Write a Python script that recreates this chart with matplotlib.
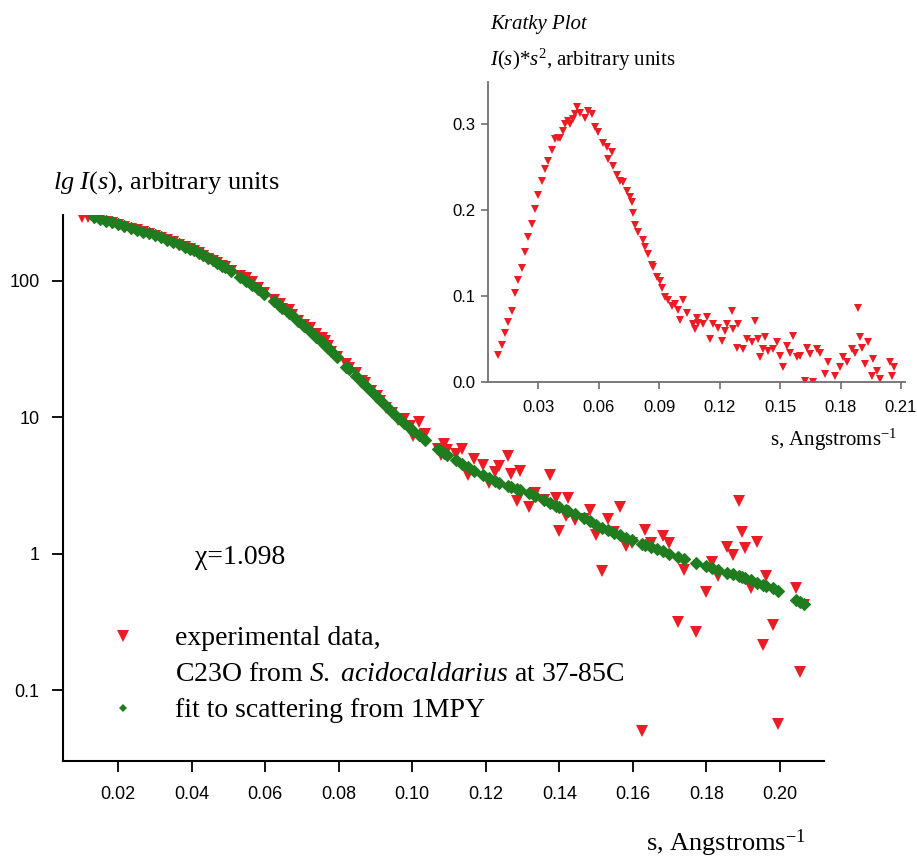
import matplotlib
matplotlib.use("Agg")
import matplotlib.pyplot as plt
from matplotlib.lines import Line2D
from matplotlib.ticker import FormatStrFormatter, NullLocator

plt.rcParams['font.family'] = 'Liberation Sans'
plt.rcParams['mathtext.fontset'] = 'custom'
plt.rcParams['mathtext.rm'] = 'Liberation Serif'
plt.rcParams['mathtext.it'] = 'Liberation Serif:italic'

# scattering vector, Angstroms^-1
s_exp = [0.0101, 0.0118, 0.0134, 0.0151, 0.0168, 0.0184, 0.0200, 0.0217, 0.0234, 0.0250,
         0.0267, 0.0283, 0.0300, 0.0317, 0.0333, 0.0349, 0.0366, 0.0383, 0.0395, 0.0407,
         0.0420, 0.0432, 0.0445, 0.0457, 0.0470, 0.0482, 0.0490, 0.0507, 0.0531, 0.0548,
         0.0565, 0.0581, 0.0598, 0.0623, 0.0639, 0.0647, 0.0664, 0.0672, 0.0689, 0.0705,
         0.0722, 0.0739, 0.0755, 0.0763, 0.0771, 0.0780, 0.0796, 0.0821, 0.0829, 0.0846,
         0.0862, 0.0871, 0.0887, 0.0904, 0.0912, 0.0929, 0.0945, 0.0962, 0.0978, 0.0995,
         0.1003, 0.1019, 0.1036, 0.1069, 0.1078, 0.1086, 0.1094, 0.1119, 0.1136, 0.1152,
         0.1169, 0.1193, 0.1210, 0.1226, 0.1235, 0.1260, 0.1268, 0.1284, 0.1292, 0.1317,
         0.1334, 0.1359, 0.1375, 0.1392, 0.1400, 0.1417, 0.1425, 0.1442, 0.1466, 0.1483,
         0.1500, 0.1516, 0.1533, 0.1549, 0.1566, 0.1582, 0.1599, 0.1624, 0.1632, 0.1649,
         0.1665, 0.1682, 0.1698, 0.1723, 0.1740, 0.1773, 0.1798, 0.1814, 0.1831, 0.1855,
         0.1872, 0.1888, 0.1896, 0.1905, 0.1921, 0.1938, 0.1955, 0.1963, 0.1980, 0.1996,
         0.2045, 0.2054, 0.2065]

# experimental I(s), main log plot
intensity_exp = [293, 291, 289, 281, 271, 264, 256, 249, 241, 235,
                 226, 220, 213, 206, 199, 191, 184, 176, 171, 165,
                 159, 152, 145, 140, 134, 128, 126, 118, 108, 105.2,
                 97.9, 88.0, 81.4, 72.1, 67.1, 62.2, 60.8, 55.9, 50.8, 47.3,
                 44.7, 40.9, 37.9, 36.1, 33.1, 30.1, 27.6, 24.6, 23.0, 20.96,
                 18.44, 17.80, 15.63, 14.37, 13.19, 11.59, 10.75, 9.55, 9.62, 8.55,
                 7.26, 9.24, 7.53, 5.88, 5.28, 6.36, 5.77, 5.37, 5.81, 3.75,
                 4.92, 4.45, 3.27, 3.96, 4.41, 5.20, 3.82, 2.43, 4.03, 2.20,
                 2.80, 2.49, 3.76, 2.57, 1.46, 1.90, 2.55, 1.75, 1.78, 2.09,
                 1.36, 0.740, 1.79, 1.43, 2.19, 1.14, 1.19, 0.050, 1.50, 1.19,
                 0.012, 1.35, 1.19, 0.313, 0.753, 0.268, 0.526, 0.869, 0.680, 1.11,
                 0.982, 2.43, 1.44, 1.10, 0.564, 1.22, 0.214, 0.690, 0.300, 0.056,
                 0.564, 0.135, 0.422]

# Kratky plot values I(s)*s^2 (inset)
kratky_exp = [0.031, 0.0427, 0.057, 0.070, 0.083, 0.103, 0.118, 0.132, 0.151, 0.168,
              0.184, 0.201, 0.217, 0.234, 0.248, 0.257, 0.269, 0.282, 0.283, 0.284,
              0.292, 0.300, 0.303, 0.300, 0.306, 0.311, 0.319, 0.313, 0.307, 0.315,
              0.311, 0.296, 0.290, 0.278, 0.273, 0.259, 0.267, 0.251, 0.240, 0.234,
              0.232, 0.222, 0.215, 0.209, 0.196, 0.182, 0.174, 0.165, 0.157, 0.149,
              0.136, 0.134, 0.122, 0.117, 0.109, 0.099, 0.095, 0.088, 0.091, 0.084,
              0.072, 0.095, 0.080, 0.067, 0.061, 0.074, 0.069, 0.067, 0.075, 0.050,
              0.067, 0.063, 0.048, 0.059, 0.067, 0.082, 0.061, 0.040, 0.067, 0.038,
              0.050, 0.046, 0.071, 0.050, 0.029, 0.038, 0.052, 0.036, 0.038, 0.046,
              0.030, 0.017, 0.042, 0.034, 0.054, 0.029, 0.030, 0.0015, 0.040, 0.032,
              0.0005, 0.038, 0.034, 0.009, 0.023, 0.007, 0.017, 0.029, 0.023, 0.038,
              0.034, 0.086, 0.052, 0.040, 0.021, 0.046, 0.007, 0.027, 0.013, 0.0035,
              0.0236, 0.0066, 0.018]

# fit to scattering from 1MPY (starts at the third s point)
s_fit = s_exp[2:]
intensity_fit = [294, 285, 276, 268, 260, 252, 244, 237,
                 229, 222, 216, 208, 200, 193, 185, 177, 172, 167,
                 160, 153, 146, 141, 134, 129, 125, 118, 107, 99.6,
                 93.0, 87.2, 80.5, 71.0, 65.6, 63.0, 57.8, 55.6, 50.8, 46.6,
                 42.6, 38.8, 35.5, 33.7, 32.1, 30.3, 27.4, 23.5, 22.4, 20.1,
                 18.2, 17.3, 15.6, 14.1, 13.4, 12.1, 10.9, 9.84, 9.04, 8.30,
                 7.97, 7.36, 6.76, 5.82, 5.62, 5.46, 5.30, 4.83, 4.53, 4.28,
                 4.06, 3.77, 3.58, 3.41, 3.31, 3.13, 3.07, 2.97, 2.92, 2.76,
                 2.65, 2.47, 2.36, 2.25, 2.20, 2.10, 2.05, 1.95, 1.81, 1.72,
                 1.63, 1.55, 1.48, 1.42, 1.36, 1.31, 1.25, 1.18, 1.16, 1.12,
                 1.08, 1.04, 1.00, 0.951, 0.916, 0.853, 0.808, 0.783, 0.759, 0.726,
                 0.703, 0.683, 0.672, 0.659, 0.636, 0.613, 0.590, 0.580, 0.559, 0.533,
                 0.457, 0.445, 0.430]

main_xticks = [0.02, 0.04, 0.06, 0.08, 0.10, 0.12, 0.14, 0.16, 0.18, 0.20]
main_yticks = [0.1, 1, 10, 100]
main_ylabels = ['0.1', '1', '10', '100']
inset_xticks = [0.03, 0.06, 0.09, 0.12, 0.15, 0.18, 0.21]
inset_yticks = [0.0, 0.1, 0.2, 0.3]

red = '#ec1c24'
green = '#1f7d1f'
serif = 'Liberation Serif'

W, H = 917, 858
fig = plt.figure(figsize=(W / 100, H / 100), dpi=100)

# main log plot
ax = fig.add_axes([63 / W, 1 - 761 / H, (824 - 63) / W, (761 - 215) / H])
ax.plot(s_exp, intensity_exp, linestyle='none', marker='v', ms=8, color=red, mew=0)
ax.plot(s_fit, intensity_fit, linestyle='none', marker='D', ms=6.3, color=green,
        mec=green, mew=0.8)
ax.set_yscale('log')
ax.set_xlim(0.005, 0.212)
ax.set_ylim(0.0302, 303)
ax.set_xticks(main_xticks)
ax.xaxis.set_major_formatter(FormatStrFormatter('%.2f'))
ax.set_yticks(main_yticks)
ax.set_yticklabels(main_ylabels)
ax.yaxis.set_minor_locator(NullLocator())
for sp in ['top', 'right']:
    ax.spines[sp].set_visible(False)
for sp in ['left', 'bottom']:
    ax.spines[sp].set_linewidth(1.5)
ax.tick_params(axis='x', length=8, width=1.3, labelsize=13, pad=10)
ax.tick_params(axis='y', length=8, width=1.3, labelsize=13, pad=9)

fig.text(53 / W, 1 - 183 / H, r'$\mathit{lg\ I(s)}$, arbitrary units',
         family=serif, fontsize=19, ha='left', va='center')
fig.text(806 / W, 1 - 843 / H, r's, Angstroms$^{-1}$',
         family=serif, fontsize=19, ha='right', va='center')
fig.text(195 / W, 1 - 558 / H, '\u03c7=1.098', family=serif, fontsize=20,
         ha='left', va='center')

handles = [Line2D([], [], linestyle='none', marker='v', ms=8, color=red, mew=0),
           Line2D([], [], linestyle='none'),
           Line2D([], [], linestyle='none', marker='D', ms=4.5, color=green, mew=0)]
labels = ['experimental data,',
          r'C23O from $\mathit{S.\ acidocaldarius}$ at 37-85C',
          'fit to scattering from 1MPY']
fig.legend(handles, labels, loc='upper left', bbox_to_anchor=(109 / W, 1 - 626 / H),
           frameon=False, prop={'family': serif, 'size': 20}, handlelength=1.0,
           handletextpad=1.37, borderpad=0, borderaxespad=0, labelspacing=0.38)

# Kratky inset
axi = fig.add_axes([488 / W, 1 - 382 / H, 417 / W, 300 / H])
axi.plot(s_exp, kratky_exp, linestyle='none', marker='v', ms=5.5, color=red, mew=0)
axi.set_xlim(0.005, 0.212)
axi.set_ylim(0, 0.3485)
axi.set_xticks(inset_xticks)
axi.set_yticks(inset_yticks)
axi.xaxis.set_major_formatter(FormatStrFormatter('%.2f'))
axi.yaxis.set_major_formatter(FormatStrFormatter('%.1f'))
for sp in ['top', 'right']:
    axi.spines[sp].set_visible(False)
for sp in ['left', 'bottom']:
    axi.spines[sp].set_color('#6e6e6e')
    axi.spines[sp].set_linewidth(1.3)
axi.tick_params(length=5, width=1.2, color='#6e6e6e', labelsize=12)
axi.tick_params(axis='x', pad=8)
axi.tick_params(axis='y', pad=4)

fig.text(490 / W, 1 - 25 / H, 'Kratky Plot', family=serif, style='italic',
         fontsize=15, ha='left', va='center')
fig.text(490 / W, 1 - 60 / H, r'$\mathit{I(s){*}s}^{2}$, arbitrary units',
         family=serif, fontsize=15, ha='left', va='center')
fig.text(770 / W, 1 - 440 / H, r's, Angstroms$^{-1}$', family=serif,
         fontsize=15, ha='left', va='center')

fig.savefig('out.png', dpi=100)
